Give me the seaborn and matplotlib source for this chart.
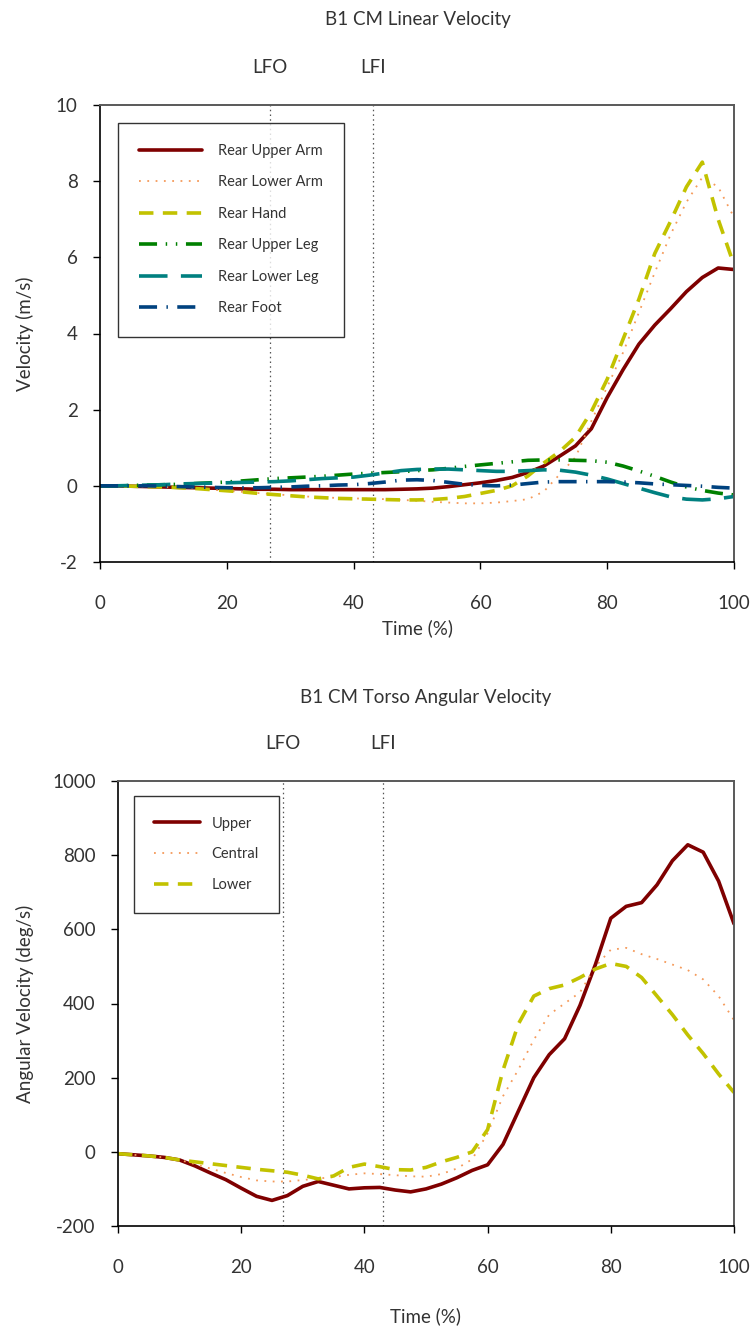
import matplotlib
matplotlib.use("Agg")
import matplotlib.pyplot as plt
import matplotlib.transforms as mtransforms
import seaborn as sns
import numpy as np
import pandas as pd

# ---------------- data ----------------
time_pct = [0, 2.5, 5, 7.5, 10, 12.5, 15, 17.5, 20, 22.5, 25, 27.5, 30, 32.5, 35,
            37.5, 40, 42.5, 45, 47.5, 50, 52.5, 55, 57.5, 60, 62.5, 65, 67.5, 70,
            72.5, 75, 77.5, 80, 82.5, 85, 87.5, 90, 92.5, 95, 97.5, 100]

rear_upper_arm = [0, 0, -0.01, -0.02, -0.03, -0.04, -0.05, -0.06, -0.07, -0.08, -0.09,
                  -0.09, -0.1, -0.1, -0.1, -0.1, -0.1, -0.1, -0.1, -0.09, -0.08, -0.06,
                  -0.02, 0.03, 0.08, 0.14, 0.22, 0.35, 0.52, 0.78, 1.05, 1.5, 2.32, 3.05,
                  3.72, 4.22, 4.65, 5.1, 5.47, 5.72, 5.68]
rear_lower_arm = [0, 0, -0.01, -0.02, -0.03, -0.05, -0.07, -0.1, -0.13, -0.16, -0.19,
                  -0.22, -0.25, -0.28, -0.3, -0.32, -0.33, -0.34, -0.35, -0.37, -0.39,
                  -0.42, -0.44, -0.46, -0.46, -0.44, -0.4, -0.35, -0.15, 0.3, 0.75, 1.7,
                  2.6, 3.5, 4.55, 5.6, 6.6, 7.45, 8.1, 7.85, 7.05]
rear_hand = [0, 0, -0.01, -0.02, -0.03, -0.05, -0.07, -0.1, -0.13, -0.16, -0.2, -0.23,
             -0.26, -0.29, -0.31, -0.33, -0.34, -0.35, -0.36, -0.37, -0.37, -0.36, -0.33,
             -0.28, -0.2, -0.12, 0.0, 0.26, 0.6, 0.9, 1.28, 1.95, 2.8, 3.85, 4.9, 6.1,
             6.95, 7.85, 8.5, 7.0, 5.8]
rear_upper_leg = [0, 0, 0.01, 0.02, 0.03, 0.04, 0.06, 0.08, 0.1, 0.13, 0.16, 0.19, 0.21,
                  0.23, 0.25, 0.28, 0.31, 0.33, 0.35, 0.37, 0.4, 0.42, 0.46, 0.51, 0.55,
                  0.59, 0.63, 0.67, 0.68, 0.68, 0.67, 0.66, 0.62, 0.52, 0.39, 0.25, 0.1,
                  -0.03, -0.12, -0.19, -0.24]
rear_lower_leg = [0, 0, 0.01, 0.02, 0.03, 0.05, 0.06, 0.07, 0.08, 0.09, 0.1, 0.11, 0.13,
                  0.16, 0.19, 0.21, 0.23, 0.28, 0.34, 0.4, 0.43, 0.44, 0.44, 0.42, 0.4,
                  0.38, 0.38, 0.4, 0.42, 0.41, 0.36, 0.28, 0.18, 0.06, -0.06, -0.18,
                  -0.29, -0.35, -0.37, -0.34, -0.28]
rear_foot = [0, 0, 0, 0, -0.01, -0.02, -0.03, -0.04, -0.05, -0.05, -0.05, -0.04, -0.03,
             -0.01, 0.0, 0.02, 0.03, 0.06, 0.1, 0.15, 0.16, 0.14, 0.09, 0.04, 0.01, 0.0,
             0.02, 0.06, 0.1, 0.11, 0.11, 0.11, 0.11, 0.1, 0.08, 0.05, 0.03, 0.01,
             -0.01, -0.04, -0.06]

torso_upper = [-5, -8, -11, -15, -22, -38, -57, -75, -98, -120, -131, -118, -93, -80,
               -90, -100, -97, -96, -103, -108, -100, -87, -70, -50, -35, 20, 110, 200,
               262, 305, 395, 505, 630, 662, 672, 720, 785, 828, 808, 730, 615]
torso_central = [-5, -8, -11, -15, -22, -33, -45, -57, -68, -77, -80, -80, -76, -72,
                 -68, -62, -58, -60, -63, -66, -67, -60, -45, -20, 50, 150, 222, 302,
                 370, 400, 430, 500, 545, 550, 533, 520, 505, 490, 465, 420, 355]
torso_lower = [-5, -8, -11, -15, -22, -27, -32, -37, -42, -47, -51, -55, -63, -73, -65,
               -42, -33, -40, -48, -49, -42, -27, -15, 0, 60, 220, 345, 420, 440, 450,
               470, 493, 508, 500, 470, 420, 370, 315, 265, 210, 160]

event_names = ["LFO", "LFI"]
event_times_linear = [26.8, 43.1]
event_times_torso = [26.8, 43.0]

x_ticks = [0, 20, 40, 60, 80, 100]
lin_y_ticks = [-2, 0, 2, 4, 6, 8, 10]
ang_y_ticks = [-200, 0, 200, 400, 600, 800, 1000]

# ---------------- style ----------------
sns.set_theme(style="white")
plt.rcParams["font.family"] = ["Lato", "DejaVu Sans"]
plt.rcParams["axes.unicode_minus"] = False
TXT = "#333333"
FS = 13.5

W, H = 752, 1329
fig = plt.figure(figsize=(W / 100, H / 100), dpi=100)
fig.patch.set_facecolor("white")


def px_axes(l, t, r, b):
    return fig.add_axes([l / W, 1 - b / H, (r - l) / W, (b - t) / H])


ax1 = px_axes(100, 105, 734, 562)
ax2 = px_axes(118, 781, 734, 1226)

lin_df = pd.DataFrame({
    "Time": time_pct,
    "Rear Upper Arm": rear_upper_arm,
    "Rear Lower Arm": rear_lower_arm,
    "Rear Hand": rear_hand,
    "Rear Upper Leg": rear_upper_leg,
    "Rear Lower Leg": rear_lower_leg,
    "Rear Foot": rear_foot,
})
ang_df = pd.DataFrame({
    "Time": time_pct,
    "Upper": torso_upper,
    "Central": torso_central,
    "Lower": torso_lower,
})

LW = 2.6
DOT = dict(color="#F59A5A", lw=1.3, ls=(0, (1, 3.6)))
styles = {
    "Rear Upper Arm": dict(color="#7F0000", lw=LW, ls="-"),
    "Rear Lower Arm": DOT,
    "Rear Hand": dict(color="#C2C200", lw=LW, ls=(0, (4, 2.6))),
    "Rear Upper Leg": dict(color="#008000", lw=LW, ls=(0, (5, 2.4, 0.4, 2.4, 0.4, 2.4))),
    "Rear Lower Leg": dict(color="#008080", lw=LW, ls=(0, (7.9, 3.7))),
    "Rear Foot": dict(color="#00427F", lw=LW, ls=(0, (5, 2.6, 0.4, 2.6))),
    "Upper": dict(color="#7F0000", lw=LW, ls="-"),
    "Central": DOT,
    "Lower": dict(color="#C2C200", lw=LW, ls=(0, (4, 2.6))),
}


def draw(ax, df, names, ylim, yticks, ylabel, events, title_y_px, title, title_x_px,
         leg_anchor, leg_opts):
    for name in names:
        st = styles[name]
        sns.lineplot(data=df, x="Time", y=name, ax=ax, color=st["color"],
                     linewidth=st["lw"], linestyle=st["ls"], label=name, legend=False)

    ax.set_xlim(0, 100)
    ax.set_ylim(*ylim)
    ax.set_xticks(x_ticks)
    ax.set_yticks(yticks)
    ax.tick_params(axis="both", which="major", direction="out", length=5, width=1,
                   color="black", labelsize=FS, labelcolor=TXT, left=True, bottom=True)
    ax.tick_params(axis="x", pad=19)
    ax.tick_params(axis="y", pad=11)
    for side in ("left", "bottom"):
        ax.spines[side].set_color("black")
        ax.spines[side].set_linewidth(1.2)
    for side in ("top", "right"):
        ax.spines[side].set_color("#595959")
        ax.spines[side].set_linewidth(1.4)

    ax.set_xlabel("Time (%)", fontsize=FS, color=TXT)
    ax.set_ylabel(ylabel, fontsize=FS, color=TXT)
    ax.xaxis.label.set_va("center")
    ax.yaxis.label.set_va("center")

    # event markers
    trans = mtransforms.blended_transform_factory(ax.transData, ax.transAxes)
    for nm, t in zip(event_names, events):
        ax.axvline(t, color="#555555", lw=0.9, ls=(0, (1.2, 2.6)), zorder=1)
        ax.text(t, leg_anchor[2], nm, transform=trans, ha="center", va="center",
                fontsize=FS, color=TXT)

    fig.text(title_x_px / W, 1 - title_y_px / H, title, ha="center", va="center",
             fontsize=FS, color=TXT)

    handles, labels = ax.get_legend_handles_labels()
    leg = ax.legend(handles, labels, loc="upper left",
                    bbox_to_anchor=(leg_anchor[0], leg_anchor[1]),
                    fontsize=10.5, frameon=True, fancybox=False, edgecolor="black",
                    borderaxespad=0, **leg_opts)
    leg.get_frame().set_linewidth(1.0)
    for txt in leg.get_texts():
        txt.set_color(TXT)


draw(ax1, lin_df,
     ["Rear Upper Arm", "Rear Lower Arm", "Rear Hand", "Rear Upper Leg",
      "Rear Lower Leg", "Rear Foot"],
     (-2, 10), lin_y_ticks, "Velocity (m/s)", event_times_linear,
     20, "B1 CM Linear Velocity", 418, (0.028, 0.961, 1.083),
     dict(handlelength=4.3, handletextpad=1.15, labelspacing=1.2, borderpad=1.45))
draw(ax2, ang_df, ["Upper", "Central", "Lower"],
     (-200, 1000), ang_y_ticks, "Angular Velocity (deg/s)", event_times_torso,
     697, "B1 CM Torso Angular Velocity", 426, (0.026, 0.966, 1.085),
     dict(handlelength=3.15, handletextpad=0.75, labelspacing=1.15, borderpad=1.4))

ax1.yaxis.set_label_coords((25 - 100) / 634, 0.5)
ax1.xaxis.set_label_coords(0.5, (562 - 628) / 457)
ax2.yaxis.set_label_coords((25 - 118) / 616, 0.5)
ax2.xaxis.set_label_coords(0.5, (1226 - 1316) / 445)

fig.savefig("out.png", dpi=100, facecolor="white")
